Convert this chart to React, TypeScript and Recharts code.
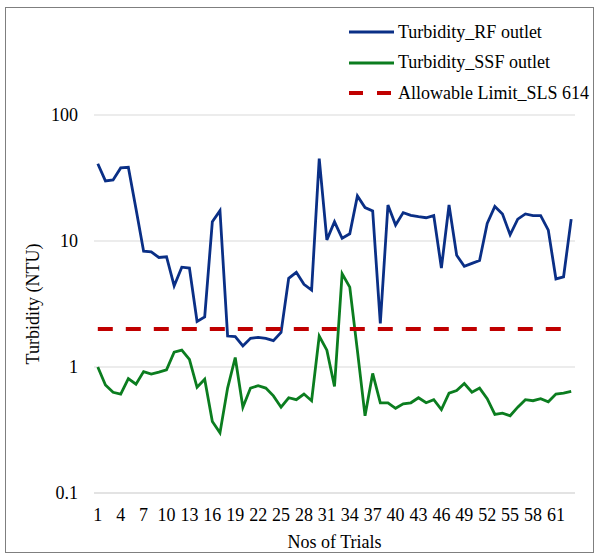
import React from 'react';
import { LineChart, Line, XAxis, YAxis, CartesianGrid, Legend } from 'recharts';

const FONT = '"Liberation Serif", serif';

// Trial numbers (x categories)
const trials = [
  1, 2, 3, 4, 5, 6, 7, 8, 9, 10, 11, 12, 13, 14, 15, 16, 17, 18, 19, 20, 21,
  22, 23, 24, 25, 26, 27, 28, 29, 30, 31, 32, 33, 34, 35, 36, 37, 38, 39, 40, 41, 42,
  43, 44, 45, 46, 47, 48, 49, 50, 51, 52, 53, 54, 55, 56, 57, 58, 59, 60, 61, 62, 63,
];

// Turbidity_RF outlet (NTU)
const rfOutlet = [
  41, 30, 30.5, 38, 38.5, 18, 8.3, 8.2, 7.4, 7.5, 4.4, 6.2, 6.1, 2.3, 2.5, 14.2, 17.4, 1.76, 1.74, 1.47, 1.69,
  1.72, 1.69, 1.62, 1.88, 5.06, 5.64, 4.53, 4.08, 45, 10.2, 14.2, 10.5, 11.4, 22.8, 18.4, 17.3, 2.22, 19.3, 13.4, 16.8, 16.0,
  15.6, 15.3, 15.9, 6.1, 19.3, 7.7, 6.3, 6.65, 7.0, 13.8, 18.8, 16.4, 11.2, 14.9, 16.4, 15.9, 15.9, 12.2, 5.0, 5.2, 14.9,
];

// Turbidity_SSF outlet (NTU)
const ssfOutlet = [
  1.0, 0.72, 0.63, 0.61, 0.81, 0.73, 0.92, 0.88, 0.91, 0.95, 1.31, 1.36, 1.15, 0.69, 0.8, 0.37, 0.3, 0.68, 1.19, 0.48, 0.68,
  0.71, 0.68, 0.59, 0.48, 0.57, 0.55, 0.61, 0.54, 1.76, 1.36, 0.7, 5.5, 4.3, 1.35, 0.41, 0.89, 0.52, 0.52, 0.47, 0.51, 0.52,
  0.57, 0.52, 0.55, 0.46, 0.62, 0.65, 0.74, 0.63, 0.68, 0.56, 0.42, 0.43, 0.41, 0.48, 0.55, 0.54, 0.56, 0.53, 0.61, 0.62, 0.64,
];

// Allowable Limit_SLS 614 (NTU)
const allowableLimit = 2;

const yTicks = [0.1, 1, 10, 100];

const data = trials.map((t, i) => ({
  trial: t,
  rf: rfOutlet[i],
  ssf: ssfOutlet[i],
  limit: allowableLimit,
}));

const legendItems = [
  { name: 'Turbidity_RF outlet', color: '#0A2F86', dash: undefined },
  { name: 'Turbidity_SSF outlet', color: '#0B7D1F', dash: undefined },
  { name: 'Allowable Limit_SLS 614', color: '#C00000', dash: '14 14' },
];

const renderLegend = () => (
  <div style={{ fontFamily: FONT, fontSize: 18, color: '#000' }}>
    {legendItems.map((item) => (
      <div key={item.name} style={{ display: 'flex', alignItems: 'center', height: 30.5 }}>
        <svg width={45} height={8}>
          <line
            x1={0}
            y1={4}
            x2={45}
            y2={4}
            stroke={item.color}
            strokeWidth={item.dash ? 4 : 3}
            strokeDasharray={item.dash}
          />
        </svg>
        <span style={{ marginLeft: 4, whiteSpace: 'nowrap' }}>{item.name}</span>
      </div>
    ))}
  </div>
);

const YTitle = () => (
  <text
    x={33}
    y={304}
    transform="rotate(-90 33 304)"
    textAnchor="middle"
    dominantBaseline="central"
    fontFamily={FONT}
    fontSize={18}
    fill="#000"
  >
    Turbidity (NTU)
  </text>
);

const XTitle = () => (
  <text x={334.5} y={548} textAnchor="middle" fontFamily={FONT} fontSize={18} fill="#000">
    Nos of Trials
  </text>
);

const tickStyle = { fontFamily: FONT, fontSize: 18, fill: '#000' };

const App: React.FC = () => {
  return (
    <div style={{ position: 'absolute', left: 0, top: 0, width: 595, height: 555, background: '#fff' }}>
      <LineChart
        width={595}
        height={555}
        data={data}
        margin={{ top: 115, right: 20, left: 0, bottom: 0 }}
        style={{ position: 'absolute', left: 0, top: 0 }}
      >
        <CartesianGrid vertical={false} stroke="#d9d9d9" strokeWidth={1.2} />
        <XAxis
          dataKey="trial"
          interval={2}
          height={62}
          padding={{ left: 3.8, right: 3.8 }}
          axisLine={{ stroke: '#d9d9d9', strokeWidth: 1.2 }}
          tickLine={false}
          tickSize={6}
          tickMargin={9}
          tick={tickStyle}
          label={<XTitle />}
        />
        <YAxis
          scale="log"
          domain={[0.1, 100]}
          ticks={yTicks}
          allowDataOverflow
          width={94}
          axisLine={false}
          tickLine={false}
          tickSize={6}
          tickMargin={10}
          tickFormatter={(v: number) => String(v)}
          tick={tickStyle}
          label={<YTitle />}
        />
        <Legend
          layout="vertical"
          align="center"
          verticalAlign="middle"
          wrapperStyle={{ top: 17, left: 349, width: 240 }}
          content={renderLegend}
        />
        <Line
          type="linear"
          dataKey="rf"
          name="Turbidity_RF outlet"
          stroke="#0A2F86"
          strokeWidth={2.8}
          dot={false}
          isAnimationActive={false}
        />
        <Line
          type="linear"
          dataKey="ssf"
          name="Turbidity_SSF outlet"
          stroke="#0B7D1F"
          strokeWidth={2.8}
          dot={false}
          isAnimationActive={false}
        />
        <Line
          type="linear"
          dataKey="limit"
          name="Allowable Limit_SLS 614"
          stroke="#C00000"
          strokeWidth={4}
          strokeDasharray="15 13"
          dot={false}
          isAnimationActive={false}
        />
      </LineChart>
      {/* outer chart border, drawn on top */}
      <div
        style={{
          position: 'absolute',
          left: 5,
          top: 7,
          width: 589,
          height: 546,
          border: '1.5px solid #7f7f7f',
          boxSizing: 'border-box',
          pointerEvents: 'none',
        }}
      />
    </div>
  );
};

export default App;
